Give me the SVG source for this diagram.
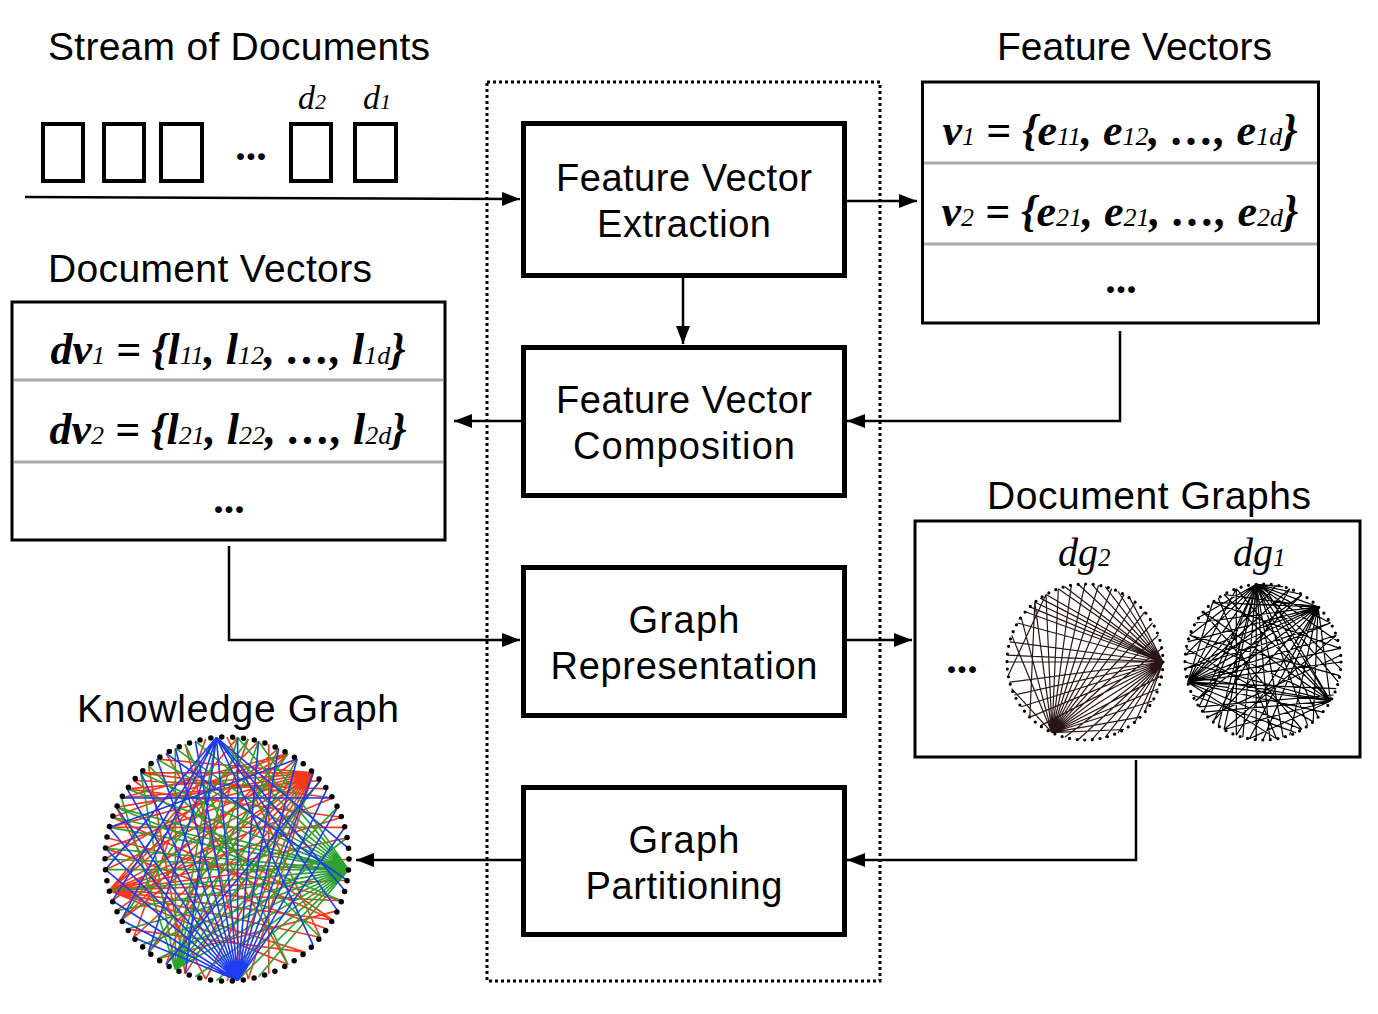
<svg xmlns="http://www.w3.org/2000/svg" width="1378" height="1014" viewBox="0 0 1378 1014">
<style>
.title{font-family:"Liberation Sans",Arial,sans-serif;font-size:39px;fill:#000}
.box{fill:#fff;stroke:#000;stroke-width:5}
.btxt{font-family:"Liberation Sans",Arial,sans-serif;font-size:38px;fill:#000;text-anchor:middle}
.tbl{fill:#fff;stroke:#000;stroke-width:3}
.div{stroke:#aaa;stroke-width:3}
.math{font-family:"Liberation Serif","Times New Roman",serif;font-size:44px;font-weight:bold;font-style:italic;text-anchor:middle}
.sub{font-size:26px;font-weight:normal}
.dots{font-family:"Liberation Serif",serif;font-size:42px;font-weight:bold;text-anchor:middle}
.lab{font-family:"Liberation Serif","Times New Roman",serif;font-style:italic}
.doc{fill:#fff;stroke:#000;stroke-width:4}
.conn{fill:none;stroke:#000;stroke-width:2.5}
.ring{fill:none;stroke:#000;stroke-linecap:round}
</style>
<defs>
<marker id="arr" markerUnits="userSpaceOnUse" markerWidth="18" markerHeight="14" refX="18" refY="7" orient="auto">
<path d="M0 0L18 7L0 14z" fill="#000"/>
</marker>
</defs>
<rect width="1378" height="1014" fill="#fff"/>

<g id="pipeline-frame">
<rect x="487" y="82" width="393" height="899" fill="none" stroke="#000" stroke-width="3" stroke-dasharray="3 3"/>
</g>

<g id="stream">
<text class="title" x="48" y="60" textLength="382" lengthAdjust="spacing">Stream of Documents</text>
<rect class="doc" x="43" y="124" width="40" height="57"/>
<rect class="doc" x="104" y="124" width="40" height="57"/>
<rect class="doc" x="161" y="124" width="41" height="57"/>
<text class="dots" x="251" y="160">...</text>
<rect class="doc" x="291" y="124" width="40" height="57"/>
<rect class="doc" x="355" y="124" width="41" height="57"/>
<text class="lab" x="298" y="109" font-size="34">d<tspan font-size="22">2</tspan></text>
<text class="lab" x="363" y="109" font-size="34">d<tspan font-size="22">1</tspan></text>
</g>

<g id="fve">
<rect class="box" x="523.5" y="123.5" width="321" height="152"/>
<text class="btxt" x="684" y="191" textLength="256" lengthAdjust="spacing">Feature Vector</text>
<text class="btxt" x="684" y="237" textLength="174" lengthAdjust="spacing">Extraction</text>
</g>
<g id="fvc">
<rect class="box" x="523.5" y="347.5" width="321" height="148"/>
<text class="btxt" x="684" y="413" textLength="256" lengthAdjust="spacing">Feature Vector</text>
<text class="btxt" x="684" y="459" textLength="222" lengthAdjust="spacing">Composition</text>
</g>
<g id="gr">
<rect class="box" x="523.5" y="567.5" width="321" height="148"/>
<text class="btxt" x="684" y="633" textLength="111" lengthAdjust="spacing">Graph</text>
<text class="btxt" x="684" y="679" textLength="267" lengthAdjust="spacing">Representation</text>
</g>
<g id="gp">
<rect class="box" x="523.5" y="787.5" width="321" height="147"/>
<text class="btxt" x="684" y="853" textLength="111" lengthAdjust="spacing">Graph</text>
<text class="btxt" x="684" y="899" textLength="197" lengthAdjust="spacing">Partitioning</text>
</g>

<g id="feature-vectors">
<text class="title" x="997" y="60" textLength="275" lengthAdjust="spacing">Feature Vectors</text>
<rect class="tbl" x="922.5" y="82" width="396" height="241"/>
<line class="div" x1="924" y1="163" x2="1317" y2="163"/>
<line class="div" x1="924" y1="244" x2="1317" y2="244"/>
<text class="math" x="1120" y="145">v<tspan class="sub">1</tspan> = {e<tspan class="sub">11</tspan>, e<tspan class="sub">12</tspan>, …, e<tspan class="sub">1d</tspan>}</text>
<text class="math" x="1120" y="226">v<tspan class="sub">2</tspan> = {e<tspan class="sub">21</tspan>, e<tspan class="sub">21</tspan>, …, e<tspan class="sub">2d</tspan>}</text>
<text class="dots" x="1121" y="293">...</text>
</g>

<g id="document-vectors">
<text class="title" x="48" y="282" textLength="324" lengthAdjust="spacing">Document Vectors</text>
<rect class="tbl" x="12" y="302" width="433" height="238"/>
<line class="div" x1="14" y1="380" x2="443" y2="380"/>
<line class="div" x1="14" y1="462" x2="443" y2="462"/>
<text class="math" x="228" y="364">dv<tspan class="sub">1</tspan> = {l<tspan class="sub">11</tspan>, l<tspan class="sub">12</tspan>, …, l<tspan class="sub">1d</tspan>}</text>
<text class="math" x="228" y="444">dv<tspan class="sub">2</tspan> = {l<tspan class="sub">21</tspan>, l<tspan class="sub">22</tspan>, …, l<tspan class="sub">2d</tspan>}</text>
<text class="dots" x="229" y="513">...</text>
</g>

<g id="document-graphs">
<text class="title" x="987" y="509" textLength="324" lengthAdjust="spacing">Document Graphs</text>
<rect class="tbl" x="915" y="521" width="445" height="236"/>
<text class="dots" x="962" y="673">...</text>
<text class="lab" x="1058" y="566" font-size="40">dg<tspan font-size="25">2</tspan></text>
<text class="lab" x="1233" y="566" font-size="40">dg<tspan font-size="25">1</tspan></text>
<g transform="translate(1085 662)">
<path fill="none" stroke="#2a1416" stroke-width="1.2" d="M78 0L-55.1 -55.1M78 0L-50.2 -59.7M78 0L-44.8 -63.9M78 0L-39 -67.5M78 0L-26.7 -73.3M78 0L-20.2 -75.3M78 0L-6.8 -77.7M78 0L6.8 -77.7M78 0L20.2 -75.3M78 0L33 -70.7M78 0L44.8 -63.9M78 0L-75.3 -20.2M78 0L-77.7 -6.8M78 0L-78 0M78 0L-75.3 20.2M78 0L-70.7 33M78 0L-63.9 44.8M78 0L-55.1 55.1M78 0L-44.8 63.9M78 0L-33 70.7M78 0L-20.2 75.3M78 0L-6.8 77.7M78 0L6.8 77.7M78 0L20.2 75.3M78 0L33 70.7M78 0L-67.5 -39M78 0L-59.7 -50.2M78 0L50.2 59.7M78 0L59.7 50.2M-33 70.7L-26.7 -73.3M-33 70.7L-13.6 -76.8M-33 70.7L0 -78M-33 70.7L13.6 -76.8M-33 70.7L26.7 -73.3M-33 70.7L39 -67.5M-33 70.7L50.2 -59.7M-33 70.7L59.7 -50.2M-33 70.7L67.5 -39M-33 70.7L73.3 -26.7M-33 70.7L76.8 -13.6M-33 70.7L76.8 13.6M-33 70.7L73.3 26.7M-33 70.7L67.5 39M-33 70.7L55.1 55.1M-33 70.7L39 67.5M-33 70.7L-73.3 -26.7M-33 70.7L-63.9 -44.8M-33 70.7L-50.2 -59.7M-33 70.7L-39 -67.5M-33 70.7L-73.3 26.7M-39 -67.5L-76.8 13.6M-50.2 -59.7L-55.1 55.1"/>
<circle class="ring" r="78" stroke-width="3.2" stroke-dasharray="0 7.66"/>
</g>
<g transform="translate(1263 662)">
<path fill="none" stroke="#000" stroke-width="1.2" d="M-6.8 -77.7L-75.3 20.2M-6.8 -77.7L-63.9 44.8M-6.8 -77.7L-44.8 63.9M-6.8 -77.7L-20.2 75.3M-6.8 -77.7L-6.8 77.7M-6.8 -77.7L6.8 77.7M-6.8 -77.7L20.2 75.3M-6.8 -77.7L44.8 63.9M-6.8 -77.7L55.1 55.1M-6.8 -77.7L67.5 39M-6.8 -77.7L75.3 20.2M-6.8 -77.7L77.7 6.8M-6.8 -77.7L75.3 -20.2M-6.8 -77.7L67.5 -39M-6.8 -77.7L55.1 -55.1M-6.8 -77.7L-73.3 -26.7M-6.8 -77.7L-77.7 -6.8M-6.8 -77.7L-63.9 -44.8M-6.8 -77.7L-39 67.5M-6.8 -77.7L-59.7 50.2M-6.8 -77.7L39 -67.5M-6.8 -77.7L20.2 -75.3M55.1 -55.1L-75.3 20.2M55.1 -55.1L-77.7 6.8M55.1 -55.1L-77.7 -6.8M55.1 -55.1L-75.3 -20.2M55.1 -55.1L-67.5 -39M55.1 -55.1L-67.5 39M55.1 -55.1L-50.2 59.7M55.1 -55.1L-26.7 73.3M55.1 -55.1L0 78M55.1 -55.1L26.7 73.3M55.1 -55.1L-39 -67.5M55.1 -55.1L-50.2 -59.7M55.1 -55.1L-13.6 76.8M55.1 -55.1L67.5 39M55.1 -55.1L50.2 59.7M-75.3 20.2L67.5 39M-75.3 20.2L73.3 26.7M-75.3 20.2L78 0M-75.3 20.2L76.8 -13.6M-75.3 20.2L73.3 -26.7M-75.3 20.2L67.5 -39M-75.3 20.2L39 -67.5M-75.3 20.2L26.7 -73.3M-75.3 20.2L13.6 -76.8M-75.3 20.2L39 67.5M-75.3 20.2L13.6 76.8M-75.3 20.2L59.7 50.2M-75.3 20.2L-26.7 -73.3M-75.3 20.2L-50.2 -59.7M67.5 39L-78 0M67.5 39L-73.3 -26.7M67.5 39L-59.7 -50.2M67.5 39L-39 -67.5M67.5 39L-26.7 -73.3M67.5 39L-59.7 50.2M67.5 39L-39 67.5M67.5 39L-13.6 76.8M67.5 39L-76.8 13.6M67.5 39L0 -78M-59.7 -50.2L39 67.5M-44.8 -63.9L13.6 76.8M-26.7 -73.3L-26.7 73.3M26.7 -73.3L-50.2 59.7M39 -67.5L-67.5 39M73.3 -26.7L-39 67.5M-73.3 -26.7L76.8 13.6M-76.8 -13.6L50.2 59.7M-77.7 6.8L67.5 -39M-50.2 -59.7L76.8 -13.6M-70.7 33L33 70.7M-63.9 44.8L70.7 33M-55.1 55.1L77.7 -6.8"/>
<circle class="ring" r="78" stroke-width="3.2" stroke-dasharray="0 7.66"/>
</g>
</g>

<g id="knowledge-graph">
<text class="title" x="77" y="722" textLength="322" lengthAdjust="spacing">Knowledge Graph</text>
<g transform="translate(227 859) scale(1.564)">
<path fill="none" stroke="#f23b1c" stroke-width="1.05" d="M55.1 -55.1L-75.3 20.2M55.1 -55.1L-77.7 6.8M55.1 -55.1L-77.7 -6.8M55.1 -55.1L-75.3 -20.2M55.1 -55.1L-70.7 -33M55.1 -55.1L-63.9 -44.8M55.1 -55.1L-55.1 -55.1M55.1 -55.1L-44.8 -63.9M55.1 -55.1L-67.5 39M55.1 -55.1L-59.7 50.2M55.1 -55.1L-50.2 59.7M55.1 -55.1L-39 67.5M55.1 -55.1L-26.7 73.3M55.1 -55.1L-13.6 76.8M55.1 -55.1L0 78M55.1 -55.1L13.6 76.8M-75.3 20.2L67.5 -39M-75.3 20.2L73.3 -26.7M-75.3 20.2L76.8 -13.6M-75.3 20.2L78 0M-75.3 20.2L76.8 13.6M-75.3 20.2L73.3 26.7M-75.3 20.2L67.5 39M-75.3 20.2L59.7 50.2M-75.3 20.2L50.2 59.7M-75.3 20.2L39 67.5M-75.3 20.2L33 -70.7M-75.3 20.2L20.2 -75.3M-75.3 20.2L6.8 -77.7M39 -67.5L-78 0M39 -67.5L-67.5 39M39 -67.5L-50.2 59.7M39 -67.5L-73.3 -26.7M39 -67.5L-67.5 -39M-39 -67.5L39 67.5M-26.7 -73.3L13.6 76.8M-59.7 -50.2L67.5 39M-76.8 -13.6L73.3 26.7M-70.7 -33L-13.6 76.8M13.6 -76.8L-39 67.5M-13.6 -76.8L-59.7 50.2M-50.2 -59.7L-26.7 73.3M0 -78L59.7 50.2M26.7 -73.3L26.7 73.3M-44.8 63.9L70.7 33M-63.9 44.8L50.2 59.7M-75.3 -20.2L75.3 -20.2M-55.1 -55.1L67.5 -39M-63.9 -44.8L73.3 -26.7M-67.5 -39L59.7 -50.2M-59.7 -50.2L63.9 -44.8M-73.3 -26.7L67.5 39M-77.7 -6.8L63.9 44.8M-70.7 33L55.1 -55.1M-73.3 26.7L44.8 -63.9"/>
<path fill="none" stroke="#2ca32c" stroke-width="1.05" d="M77.7 6.8L-77.7 6.8M77.7 6.8L-77.7 -6.8M77.7 6.8L-75.3 -20.2M77.7 6.8L-70.7 -33M77.7 6.8L-63.9 -44.8M77.7 6.8L-55.1 -55.1M77.7 6.8L-44.8 -63.9M77.7 6.8L-33 -70.7M77.7 6.8L-20.2 -75.3M77.7 6.8L-6.8 -77.7M77.7 6.8L6.8 -77.7M77.7 6.8L20.2 -75.3M77.7 6.8L-75.3 20.2M77.7 6.8L-70.7 33M77.7 6.8L-63.9 44.8M77.7 6.8L-55.1 55.1M77.7 6.8L-44.8 63.9M77.7 6.8L-33 70.7M77.7 6.8L-20.2 75.3M77.7 6.8L-6.8 77.7M77.7 6.8L6.8 77.7M77.7 6.8L20.2 75.3M77.7 6.8L-73.3 -26.7M77.7 6.8L-78 0M-33 70.7L-6.8 -77.7M-33 70.7L6.8 -77.7M-33 70.7L20.2 -75.3M-33 70.7L33 -70.7M-33 70.7L44.8 -63.9M-33 70.7L59.7 -50.2M-33 70.7L70.7 -33M-33 70.7L76.8 -13.6M-33 70.7L-33 -70.7M-33 70.7L-55.1 -55.1M-33 70.7L-67.5 -39M-26.7 -73.3L39 67.5M-50.2 -59.7L59.7 50.2M-70.7 -33L73.3 26.7M13.6 -76.8L-67.5 39M39 -67.5L-50.2 59.7"/>
<path fill="none" stroke="#1e3cf0" stroke-width="1.05" d="M6.8 77.7L-77.7 -6.8M6.8 77.7L-75.3 -20.2M6.8 77.7L-70.7 -33M6.8 77.7L-63.9 -44.8M6.8 77.7L-55.1 -55.1M6.8 77.7L-44.8 -63.9M6.8 77.7L-33 -70.7M6.8 77.7L-20.2 -75.3M6.8 77.7L-6.8 -77.7M6.8 77.7L6.8 -77.7M6.8 77.7L20.2 -75.3M6.8 77.7L33 -70.7M6.8 77.7L44.8 -63.9M6.8 77.7L55.1 -55.1M6.8 77.7L63.9 -44.8M6.8 77.7L70.7 -33M6.8 77.7L75.3 -20.2M6.8 77.7L-77.7 6.8M6.8 77.7L-73.3 26.7M6.8 77.7L-67.5 39M6.8 77.7L-59.7 50.2M-6.8 -77.7L-77.7 6.8M-6.8 -77.7L-73.3 26.7M-6.8 -77.7L-67.5 39M-6.8 -77.7L-50.2 59.7M-6.8 -77.7L-26.7 73.3M-6.8 -77.7L55.1 55.1M-6.8 -77.7L70.7 33M-6.8 -77.7L75.3 20.2M-6.8 -77.7L77.7 -6.8M-67.5 -39L67.5 -39M-39 -67.5L76.8 13.6M-75.3 -20.2L44.8 -63.9M59.7 -50.2L-39 67.5"/>
</g>
<circle class="ring" cx="227" cy="859" r="122" stroke-width="5.5" stroke-dasharray="0 10.95"/>
</g>

<g id="connectors">
<path class="conn" d="M25 197L520 199" marker-end="url(#arr)"/>
<path class="conn" d="M846 201H917" marker-end="url(#arr)"/>
<path class="conn" d="M683 278V344" marker-end="url(#arr)"/>
<path class="conn" d="M1120 331V421H847" marker-end="url(#arr)"/>
<path class="conn" d="M521 421H454" marker-end="url(#arr)"/>
<path class="conn" d="M229 546V640H520" marker-end="url(#arr)"/>
<path class="conn" d="M846 640H912" marker-end="url(#arr)"/>
<path class="conn" d="M1136 760V860H847" marker-end="url(#arr)"/>
<path class="conn" d="M521 860H356" marker-end="url(#arr)"/>
</g>
</svg>
